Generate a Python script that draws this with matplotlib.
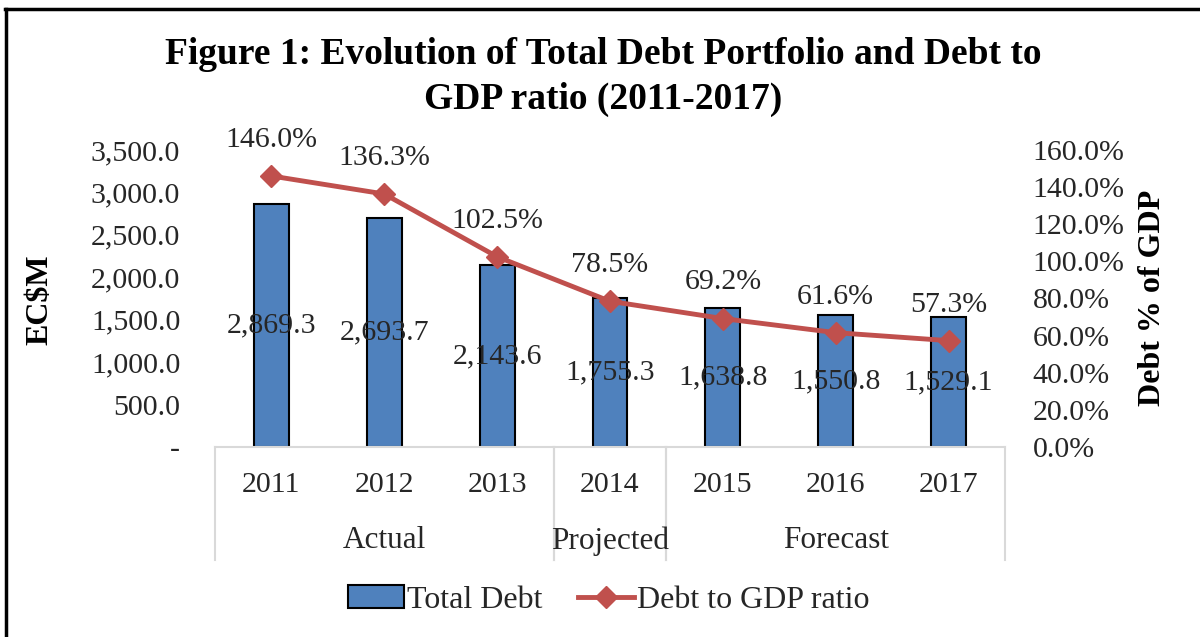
import matplotlib
matplotlib.use('Agg')
import matplotlib.pyplot as plt
import matplotlib.ticker as mticker
from matplotlib.lines import Line2D

plt.rcParams['font.family'] = ['Liberation Serif', 'DejaVu Serif']

years = ['2011', '2012', '2013', '2014', '2015', '2016', '2017']
total_debt = [2869.3, 2693.7, 2143.6, 1755.3, 1638.8, 1550.8, 1529.1]
debt_to_gdp = [146.0, 136.3, 102.5, 78.5, 69.2, 61.6, 57.3]
groups = ['Actual', 'Projected', 'Forecast']
group_spans = [(0, 2), (3, 3), (4, 6)]

bar_color = '#4f81bd'
line_color = '#c0504d'
text_color = '#262626'
grid_gray = '#d9d9d9'

W, H = 1200, 637
fig = plt.figure(figsize=(W / 100, H / 100), dpi=100)
ax = fig.add_axes([215 / W, (H - 447) / H, 790 / W, 297 / H])
ax2 = ax.twinx()

x = list(range(len(years)))
ax.bar(x, total_debt, width=0.31, color=bar_color, edgecolor='black',
       linewidth=1.5, zorder=2)
for xi, v in zip(x, total_debt):
    ax.text(xi, v / 2, f'{v:,.1f}', ha='center', va='center',
            fontsize=21.5, color=text_color, zorder=5)

ax2.plot(x, debt_to_gdp, color=line_color, linewidth=3.5, marker='D',
         markersize=11, zorder=3)
for xi, v in zip(x, debt_to_gdp):
    ax2.annotate(f'{v:.1f}%', (xi, v), xytext=(0, 26),
                 textcoords='offset points', ha='center', va='center',
                 fontsize=21.5, color=text_color)

ax.set_xlim(-0.5, len(years) - 0.5)
ax.set_ylim(0, 3500)
ax2.set_ylim(0, 160)
ax.set_yticks(range(0, 3501, 500))
ax2.set_yticks(range(0, 161, 20))
ax.yaxis.set_major_formatter(
    mticker.FuncFormatter(lambda v, p: '-' if v == 0 else f'{v:,.1f}'))
ax2.yaxis.set_major_formatter(mticker.FuncFormatter(lambda v, p: f'{v:.1f}%'))
ax.tick_params(axis='y', length=0, pad=25, labelsize=21.5, labelcolor=text_color)
ax2.tick_params(axis='y', length=0, pad=20, labelsize=21.5, labelcolor=text_color)
ax.set_xticks([])

for a in (ax, ax2):
    for s in a.spines.values():
        s.set_visible(False)
ax.spines['bottom'].set_visible(True)
ax.spines['bottom'].set_color(grid_gray)
ax.spines['bottom'].set_linewidth(1.5)

# category axis: years, group labels and separators
trans = ax.get_xaxis_transform()
for xi, yr in zip(x, years):
    ax.text(xi, -38 / 297, yr, transform=trans, ha='center', va='center',
            fontsize=21.5, color=text_color)
for g, (a, b) in zip(groups, group_spans):
    ax.text((a + b) / 2, -94 / 297, g, transform=trans, ha='center',
            va='center', fontsize=22.5, color=text_color)
    for edge in (a - 0.5, b + 0.5):
        ax.add_line(Line2D([edge, edge], [0, -113 / 297], transform=trans,
                           color=grid_gray, linewidth=1.5, clip_on=False))

fig.text(40 / W, 1 - 300 / H, r'EC\$M', rotation=90, ha='center', va='center',
         fontsize=23, fontweight='bold', color='black')
fig.text(1152 / W, 1 - 298 / H, 'Debt % of GDP', rotation=90, ha='center',
         va='center', fontsize=23, fontweight='bold', color='black')

fig.text(603 / W, 1 - 54 / H,
         'Figure 1: Evolution of Total Debt Portfolio and Debt to',
         ha='center', va='center', fontsize=27, fontweight='bold')
fig.text(603 / W, 1 - 99 / H, 'GDP ratio (2011-2017)',
         ha='center', va='center', fontsize=27, fontweight='bold')

handles = [
    plt.Rectangle((0, 0), 1, 1, facecolor=bar_color, edgecolor='black',
                  linewidth=1.5),
    Line2D([], [], color=line_color, linewidth=3.5, marker='D', markersize=11),
]
fig.legend(handles, ['Total Debt', 'Debt to GDP ratio'], loc='center',
           bbox_to_anchor=(609 / W, 1 - 600 / H), ncol=2, frameon=False,
           fontsize=23, handlelength=1.75, handletextpad=0.1,
           columnspacing=1.1, labelcolor=text_color)

# frame visible at top and left of the original screenshot
fig.add_artist(Line2D([5 / W, 1], [1 - 9 / H, 1 - 9 / H], color='black',
                      linewidth=2.5, transform=fig.transFigure))
fig.add_artist(Line2D([6 / W, 6 / W], [0, 1 - 9 / H], color='black',
                      linewidth=2.5, transform=fig.transFigure))

fig.savefig('out.png', dpi=100, facecolor='white')
